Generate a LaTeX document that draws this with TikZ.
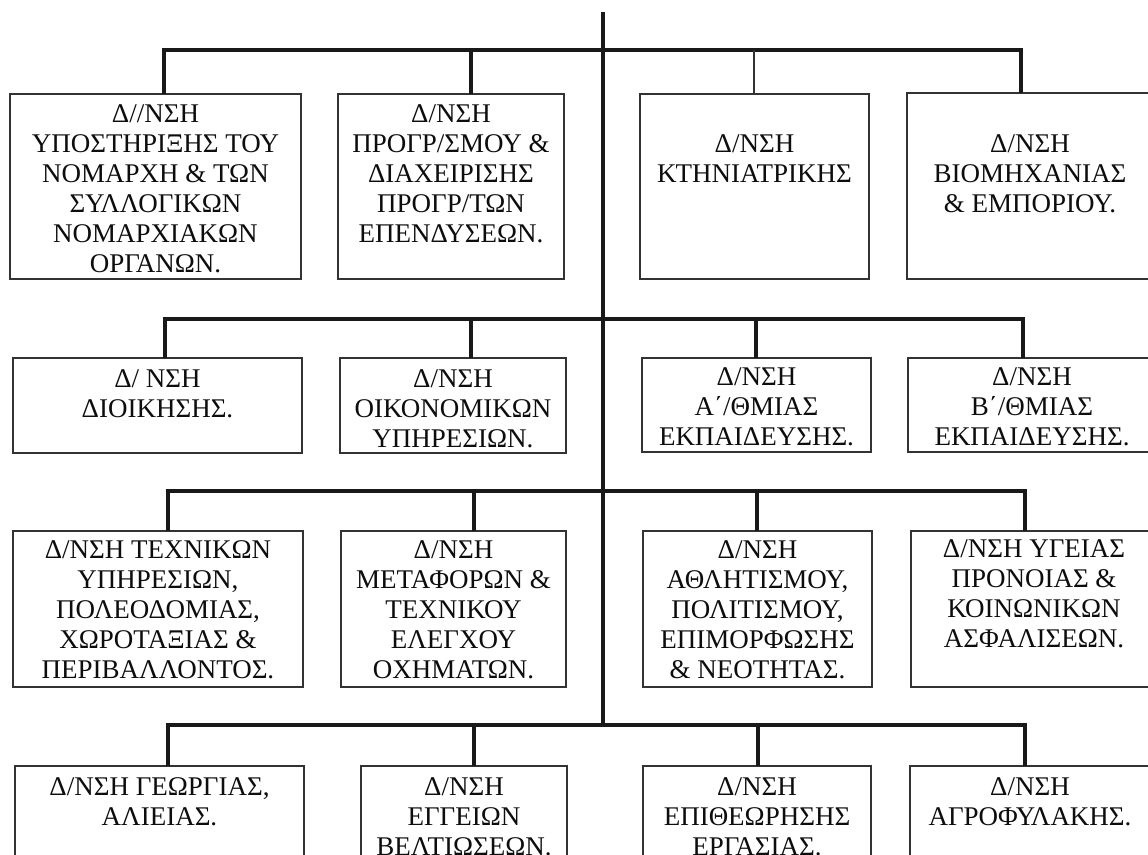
\documentclass[tikz,border=0pt]{standalone}
\usepackage{fontspec}
\setmainfont{Liberation Serif}
\usetikzlibrary{calc}
\begin{document}
\begin{tikzpicture}[x=1pt,y=-1pt,
  bus/.style={line width=3.4pt, draw=black!90, line cap=rect},
  thinlink/.style={line width=1.1pt, draw=black!80},
  box/.style={draw=black!80, line width=1.6pt, inner sep=0pt, outer sep=0pt, anchor=north west},
  txt/.style={anchor=north, inner sep=0pt, align=center, text=black!95,
    font=\fontsize{27}{30}\selectfont, execute at begin node=\strut}]
\useasboundingbox[fill=white] (0,0) rectangle (1148,854);

% ---------- boxes ----------
% row 1
\node[box, minimum width=291, minimum height=185] (b11) at (10,94) {};
\node[box, minimum width=226, minimum height=185] (b12) at (338,94) {};
\node[box, minimum width=229, minimum height=185] (b13) at (640,94) {};
\node[box, minimum width=246, minimum height=186] (b14) at (907,93) {};
% row 2
\node[box, minimum width=289, minimum height=95] (b21) at (13,358) {};
\node[box, minimum width=226, minimum height=95] (b22) at (340,358) {};
\node[box, minimum width=229, minimum height=94] (b23) at (642,358) {};
\node[box, minimum width=248, minimum height=94] (b24) at (908,358) {};
% row 3
\node[box, minimum width=290, minimum height=156] (b31) at (13,531) {};
\node[box, minimum width=225, minimum height=156] (b32) at (341,531) {};
\node[box, minimum width=229, minimum height=156] (b33) at (643,531) {};
\node[box, minimum width=246, minimum height=156] (b34) at (911,531) {};
% row 4
\node[box, minimum width=289, minimum height=110] (b41) at (15,766) {};
\node[box, minimum width=206, minimum height=110] (b42) at (361,766) {};
\node[box, minimum width=228, minimum height=110] (b43) at (643,766) {};
\node[box, minimum width=240, minimum height=110] (b44) at (910,766) {};

% ---------- texts ----------
\node[txt] (t11) at (155.5,104.6) {Δ//ΝΣΗ\\ΥΠΟΣΤΗΡΙΞΗΣ ΤΟΥ\\ΝΟΜΑΡΧΗ \& ΤΩΝ\\ΣΥΛΛΟΓΙΚΩΝ\\ΝΟΜΑΡΧΙΑΚΩΝ\\ΟΡΓΑΝΩΝ.};
\node[txt] (t12) at (451,104.6) {Δ/ΝΣΗ\\ΠΡΟΓΡ/ΣΜΟΥ \&\\ΔΙΑΧΕΙΡΙΣΗΣ\\ΠΡΟΓΡ/ΤΩΝ\\ΕΠΕΝΔΥΣΕΩΝ.};
\node[txt] (t13) at (754.5,134.6) {Δ/ΝΣΗ\\ΚΤΗΝΙΑΤΡΙΚΗΣ};
\node[txt] (t14) at (1030,134.6) {Δ/ΝΣΗ\\ΒΙΟΜΗΧΑΝΙΑΣ\\\& ΕΜΠΟΡΙΟΥ.};

\node[txt] (t21) at (157.5,369.6) {Δ/ ΝΣΗ\\ΔΙΟΙΚΗΣΗΣ.};
\node[txt] (t22) at (453,369.6) {Δ/ΝΣΗ\\ΟΙΚΟΝΟΜΙΚΩΝ\\ΥΠΗΡΕΣΙΩΝ.};
\node[txt] (t23) at (756.5,367.6) {Δ/ΝΣΗ\\Α΄/ΘΜΙΑΣ\\ΕΚΠΑΙΔΕΥΣΗΣ.};
\node[txt] (t24) at (1032,367.6) {Δ/ΝΣΗ\\Β΄/ΘΜΙΑΣ\\ΕΚΠΑΙΔΕΥΣΗΣ.};

\node[txt] (t31) at (158,540.6) {Δ/ΝΣΗ ΤΕΧΝΙΚΩΝ\\ΥΠΗΡΕΣΙΩΝ,\\ΠΟΛΕΟΔΟΜΙΑΣ,\\ΧΩΡΟΤΑΞΙΑΣ \&\\ΠΕΡΙΒΑΛΛΟΝΤΟΣ.};
\node[txt] (t32) at (453.5,540.6) {Δ/ΝΣΗ\\ΜΕΤΑΦΟΡΩΝ \&\\ΤΕΧΝΙΚΟΥ\\ΕΛΕΓΧΟΥ\\ΟΧΗΜΑΤΩΝ.};
\node[txt] (t33) at (757.5,540.6) {Δ/ΝΣΗ\\ΑΘΛΗΤΙΣΜΟΥ,\\ΠΟΛΙΤΙΣΜΟΥ,\\ΕΠΙΜΟΡΦΩΣΗΣ\\\& ΝΕΟΤΗΤΑΣ.};
\node[txt] (t34) at (1034,539.6) {Δ/ΝΣΗ ΥΓΕΙΑΣ\\ΠΡΟΝΟΙΑΣ \&\\ΚΟΙΝΩΝΙΚΩΝ\\ΑΣΦΑΛΙΣΕΩΝ.};

\node[txt] (t41) at (159.5,777.6) {Δ/ΝΣΗ ΓΕΩΡΓΙΑΣ,\\ΑΛΙΕΙΑΣ.};
\node[txt] (t42) at (464,777.6) {Δ/ΝΣΗ\\ΕΓΓΕΙΩΝ\\ΒΕΛΤΙΩΣΕΩΝ.};
\node[txt] (t43) at (757,777.6) {Δ/ΝΣΗ\\ΕΠΙΘΕΩΡΗΣΗΣ\\ΕΡΓΑΣΙΑΣ.};
\node[txt] (t44) at (1030,777.6) {Δ/ΝΣΗ\\ΑΓΡΟΦΥΛΑΚΗΣ.};

% ---------- junctions ----------
\coordinate (top) at (603,12);
\coordinate (m1) at (603,50);
\coordinate (m2) at (603,319);
\coordinate (m3) at (603,491);
\coordinate (m4) at (603,725);

\coordinate (j11) at (164,50);
\coordinate (j12) at (471,50);
\coordinate (j13) at (754,50);
\coordinate (j14) at (1021,50);

\coordinate (j21) at (165,319);
\coordinate (j22) at (471,319);
\coordinate (j23) at (756,319);
\coordinate (j24) at (1023,319);

\coordinate (j31) at (168,491);
\coordinate (j32) at (474,491);
\coordinate (j33) at (757,491);
\coordinate (j34) at (1025,491);

\coordinate (j41) at (168,725);
\coordinate (j42) at (474,725);
\coordinate (j43) at (758,725);
\coordinate (j44) at (1025,725);

% ---------- trunk and buses ----------
\draw[bus, line cap=butt] (top) -- (m4);
\draw[bus] (j11) -- (j14);
\draw[bus] (j21) -- (j24);
\draw[bus] (j31) -- (j34);
\draw[bus] (j41) -- (j44);

% ---------- drops ----------
\draw[bus, line cap=butt] (j11) -- (j11 |- b11.north);
\draw[bus, line cap=butt] (j12) -- (j12 |- b12.north);
\draw[thinlink] (j13) -- (j13 |- b13.north);
\draw[bus, line cap=butt] (j14) -- (j14 |- b14.north);

\draw[bus, line cap=butt] (j21) -- (j21 |- b21.north);
\draw[bus, line cap=butt] (j22) -- (j22 |- b22.north);
\draw[bus, line cap=butt] (j23) -- (j23 |- b23.north);
\draw[bus, line cap=butt] (j24) -- (j24 |- b24.north);

\draw[bus, line cap=butt] (j31) -- (j31 |- b31.north);
\draw[bus, line cap=butt] (j32) -- (j32 |- b32.north);
\draw[bus, line cap=butt] (j33) -- (j33 |- b33.north);
\draw[bus, line cap=butt] (j34) -- (j34 |- b34.north);

\draw[bus, line cap=butt] (j41) -- (j41 |- b41.north);
\draw[bus, line cap=butt] (j42) -- (j42 |- b42.north);
\draw[bus, line cap=butt] (j43) -- (j43 |- b43.north);
\draw[bus, line cap=butt] (j44) -- (j44 |- b44.north);
\end{tikzpicture}
\end{document}
